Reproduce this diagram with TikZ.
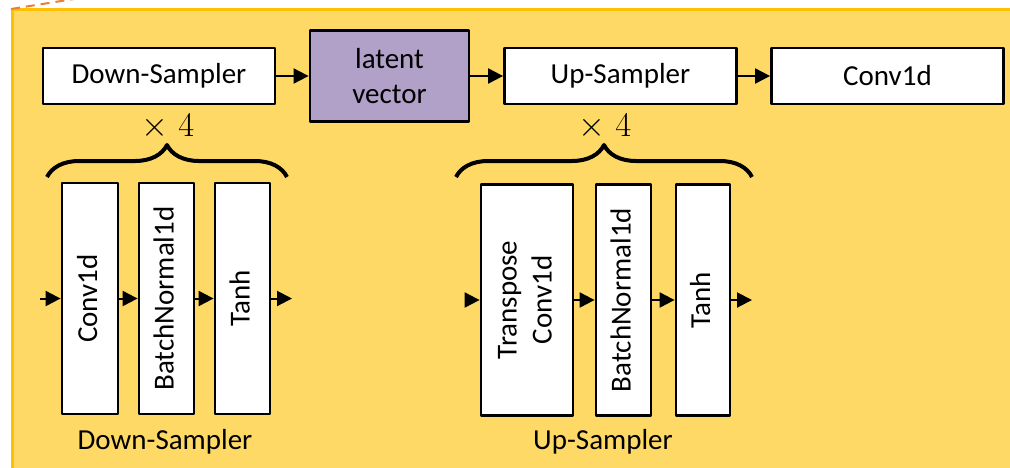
\documentclass[tikz,border=0pt]{standalone}
\usepackage{fontspec}
\usepackage{graphicx}
\setmainfont{Carlito}
\usetikzlibrary{arrows.meta,decorations.pathreplacing}
\definecolor{panel}{HTML}{FFD966}
\definecolor{rim}{HTML}{FFC000}
\definecolor{zoomline}{HTML}{ED7D31}
\definecolor{latent}{HTML}{B1A0C7}
\newcommand{\vtext}[1]{\rotatebox{90}{\begin{tabular}{@{}c@{}}#1\end{tabular}}}
\begin{document}
\begin{tikzpicture}[x=0.5pt, y=-0.5pt, font=\fontsize{14.5}{17.5}\selectfont, line join=round, >={Triangle[length=7.5pt,width=7.5pt]},
	blk/.style={draw, line width=1.4pt, fill=white, inner sep=0pt, minimum width=116pt, minimum height=28pt, align=center},
	col/.style={draw, line width=1.4pt, fill=white, inner sep=0pt, minimum height=115.5pt},
	flow/.style={->, line width=1pt},
	brc/.style={decorate, decoration={brace, amplitude=16pt}, line width=2pt}]
	\clip (0,0) rectangle (1010,467);
	% panel
	\draw[rim, line width=1.8pt, fill=panel] (12.5,9.5) rectangle (1040,500);
	\draw[zoomline, line width=1pt, dash pattern=on 4.5pt off 3pt] (11,9) -- (80,-2);
	% top row
	\node[blk] (ds) at (159,76) {Down-Sampler};
	\node[blk, fill=latent, minimum width=79.5pt, minimum height=45.5pt] (lv) at (389.5,76) {latent\\vector};
	\node[blk] (us) at (620.5,76) {Up-Sampler};
	\node[blk] (cv) at (887.5,76) {Conv1d};
	\foreach \a/\b in {ds/lv, lv/us, us/cv}{
		\draw[flow] (\a) -- (\b);}
	% repeat marks
	\node[font=\fontsize{16}{18}\selectfont] (dx) at (168,127) {$\times\;4$};
	\node[font=\fontsize{16}{18}\selectfont] (ux) at (605,127) {$\times\;4$};
	\draw[brc] (47,177) -- (287,177);
	\draw[brc] (456,177) -- (752,177);
	% blocks
	\foreach \n/\x/\y/\w/\t in {dc/90/298.5/28/Conv1d, db/166.5/298.5/27.5/BatchNormal1d, dt/242.5/298.5/27.5/Tanh,
		ut/527/300/46/Transpose\\Conv1d, ub/623.5/300/27.5/BatchNormal1d, uh/703/300/27/Tanh}{
		\node[col, minimum width=\w pt] (\n) at (\x,\y) {\vtext{\t}};}
	\path
	(40,298.5)coordinate(dI)
	(292,298.5)coordinate(dO)
	(465,300)coordinate(uI)
	(752,300)coordinate(uO)
	;
	\draw[flow] (dI) -- (dc.west);
	\draw[flow] (dt.east) -- (dO);
	\draw[flow] (uI) -- (ut.west);
	\draw[flow] (uh.east) -- (uO);
	\foreach \a/\b in {dc/db, db/dt, ut/ub, ub/uh}{
		\draw[flow] (\a) -- (\b);}
	\node (dl) at (165,442) {Down-Sampler};
	\node (ul) at (603,442) {Up-Sampler};
\end{tikzpicture}
\end{document}
